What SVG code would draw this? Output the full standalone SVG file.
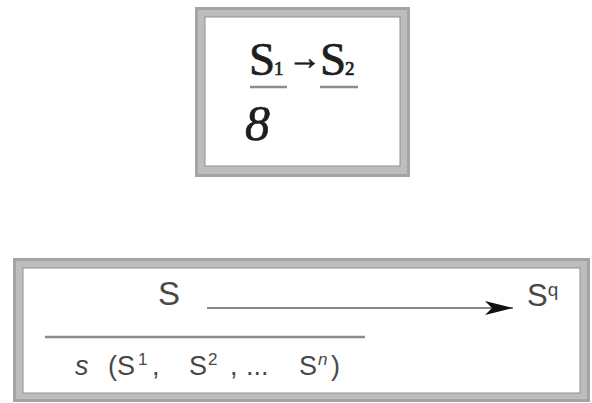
<svg xmlns="http://www.w3.org/2000/svg" width="592" height="403" viewBox="0 0 592 403">
  <style>
    .frame-outer { fill: #a4a4a4; }
    .frame-mid { fill: #bdbdbd; }
    .frame-inner { fill: #ffffff; stroke: #8f8f8f; stroke-width: 1; }
    .serif { font-family: "Liberation Serif", "Times New Roman", serif; fill: #1e1e1e; stroke: #1e1e1e; stroke-width: 0.7; }
    .sans { font-family: "Liberation Sans", Arial, sans-serif; fill: #484848; }
    .rule { stroke: #8c8c8c; stroke-width: 2.5; fill: none; }
    .conn { stroke: #8a8a8a; stroke-width: 2; fill: none; }
  </style>
  <defs>
    <marker id="head" markerUnits="userSpaceOnUse" markerWidth="30" markerHeight="16" refX="28" refY="8" orient="auto">
      <path d="M0,1 L28,8 L0,15 L7,8 Z" fill="#111111"/>
    </marker>
  </defs>
  <rect width="592" height="403" fill="#ffffff"/>

  <g id="node-top">
    <rect class="frame-outer" x="195" y="7" width="215" height="170"/>
    <rect class="frame-mid" x="198" y="10" width="209" height="164"/>
    <rect class="frame-inner" x="205" y="17" width="195" height="149"/>
    <text class="serif" x="249" y="75" font-size="47">S</text>
    <text class="serif" x="274" y="75" font-size="19">1</text>
    <text class="serif" x="288" y="69" font-size="33" stroke-width="0">→</text>
    <text class="serif" x="320" y="75" font-size="47">S</text>
    <text class="serif" x="345" y="75" font-size="19">2</text>
    <line class="rule" x1="250" y1="87" x2="287" y2="87"/>
    <line class="rule" x1="320" y1="87" x2="358" y2="87"/>
    <text class="serif" x="245" y="140" font-size="50" font-style="italic">8</text>
  </g>

  <g id="node-bottom">
    <rect class="frame-outer" x="13" y="258" width="577" height="144"/>
    <rect class="frame-mid" x="16" y="261" width="571" height="138"/>
    <rect class="frame-inner" x="23" y="268" width="557" height="125"/>
    <text class="sans" x="158" y="305" font-size="33">S</text>
    <text class="sans" x="527" y="306" font-size="31">S<tspan font-size="19" y="296">q</tspan></text>
    <line class="rule" x1="45" y1="337" x2="365" y2="337" stroke="#999999"/>
    <text class="sans" y="375" font-size="27"><tspan x="75" font-style="italic">s</tspan> <tspan x="108">(S</tspan><tspan x="138" y="365" font-size="17">1</tspan><tspan x="152" y="375">,</tspan> <tspan x="189">S</tspan><tspan x="208" y="365" font-size="17">2</tspan><tspan x="230" y="375">,</tspan> <tspan x="246">...</tspan> <tspan x="299">S</tspan><tspan x="318" y="365" font-size="17" font-style="italic">n</tspan><tspan x="331" y="375">)</tspan></text>
  </g>

  <g id="connectors">
    <line class="conn" x1="207" y1="308" x2="513" y2="308" marker-end="url(#head)"/>
  </g>
</svg>
